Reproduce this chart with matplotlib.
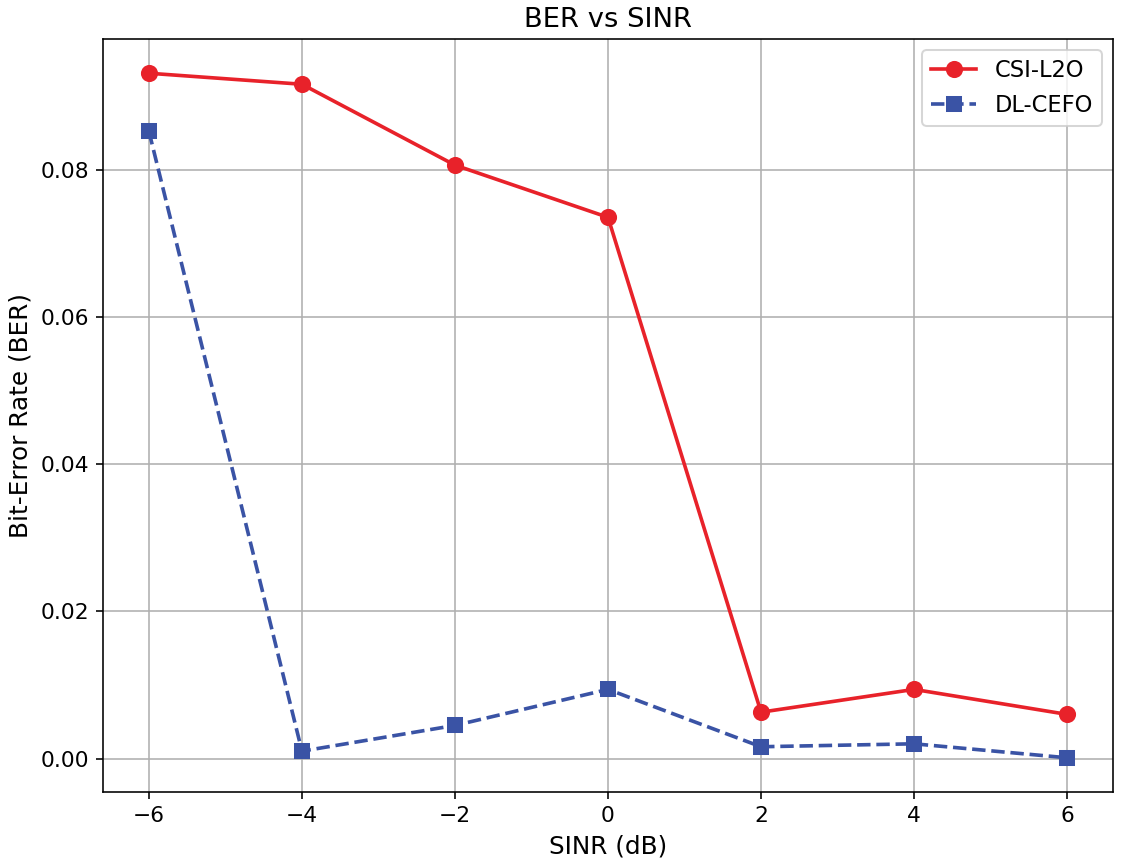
import matplotlib
matplotlib.use("Agg")
import matplotlib.pyplot as plt

sinr = [-6, -4, -2, 0, 2, 4, 6]
csi_l2o = [0.0932, 0.0917, 0.0807, 0.0736, 0.0063, 0.0094, 0.0060]
dl_cefo = [0.0853, 0.0010, 0.0045, 0.0094, 0.0016, 0.0020, 0.0001]

dpi = 145
fig = plt.figure(figsize=(1121 / dpi, 867 / dpi), dpi=dpi)
ax = fig.add_axes([103 / 1121, 1 - 792 / 867, (1113 - 103) / 1121, (792 - 39) / 867])

ax.plot(sinr, csi_l2o, color='#e8222a', marker='o', linestyle='-', linewidth=1.8,
        markersize=7.5, label='CSI-L2O')
ax.plot(sinr, dl_cefo, color='#3a53a5', marker='s', linestyle='--', linewidth=1.8,
        markersize=7.2, label='DL-CEFO')

ax.set_title('BER vs SINR', fontsize=13.6)
ax.set_xlabel('SINR (dB)', fontsize=12.3)
ax.set_ylabel('Bit-Error Rate (BER)', fontsize=12.3)
ax.set_xticks([-6, -4, -2, 0, 2, 4, 6])
ax.set_yticks([0.0, 0.02, 0.04, 0.06, 0.08])
ax.yaxis.set_major_formatter(matplotlib.ticker.FormatStrFormatter('%.2f'))
ax.tick_params(labelsize=10.8)
ax.grid(True)
ax.legend(loc='upper right', fontsize=11.2)

fig.savefig('out.png', dpi=dpi)
